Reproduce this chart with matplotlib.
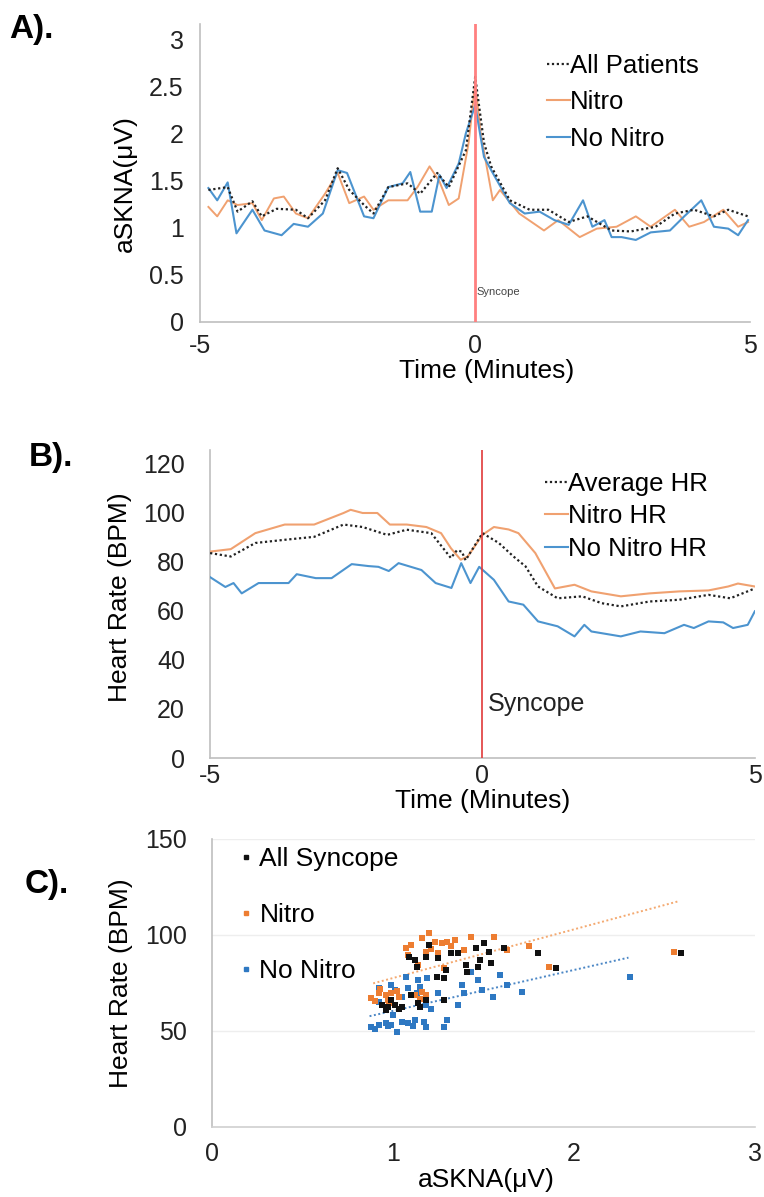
import matplotlib
matplotlib.use("Agg")
import matplotlib.pyplot as plt
from matplotlib.lines import Line2D

plt.rcParams['font.family'] = ['Liberation Sans', 'DejaVu Sans']

# ---- panel A: aSKNA around syncope ----
a_all_t = [-4.85, -4.5, -4.32, -4.05, -3.88, -3.61, -3.26, -3.04, -2.73, -2.5, -2.29, -2.02, -1.85, -1.58,
           -1.23, -1.0, -0.69, -0.48, -0.17, 0, 0.16, 0.29, 0.63, 0.99, 1.33, 1.7, 2.04, 2.48, 2.83, 3.28,
           3.63, 3.98, 4.34, 4.6, 4.96]
a_all_v = [1.40, 1.43, 1.17, 1.28, 1.12, 1.20, 1.19, 1.10, 1.29, 1.63, 1.40, 1.24, 1.15, 1.43,
           1.47, 1.36, 1.58, 1.43, 1.82, 2.6, 1.90, 1.65, 1.29, 1.19, 1.19, 1.06, 1.12, 0.97, 0.96, 1.01,
           1.15, 1.19, 1.12, 1.19, 1.12]
a_nitro_t = [-4.85, -4.69, -4.5, -4.32, -4.05, -3.88, -3.66, -3.48, -3.26, -3.04, -2.73, -2.5, -2.29, -2.02,
             -1.85, -1.58, -1.23, -1.05, -0.83, -0.65, -0.48, -0.3, -0.12, 0, 0.1, 0.32, 0.45, 0.8, 1.25,
             1.51, 1.9, 2.21, 2.57, 2.92, 3.19, 3.63, 3.89, 4.16, 4.51, 4.78, 4.96]
a_nitro_v = [1.22, 1.12, 1.29, 1.24, 1.26, 1.08, 1.31, 1.33, 1.15, 1.10, 1.36, 1.58, 1.26, 1.33,
             1.19, 1.29, 1.29, 1.43, 1.65, 1.49, 1.24, 1.31, 1.90, 2.53, 2.0, 1.29, 1.40, 1.15, 0.97,
             1.08, 0.90, 0.99, 1.01, 1.12, 1.01, 1.19, 1.01, 1.06, 1.19, 1.01, 1.06]
a_nonitro_t = [-4.85, -4.69, -4.5, -4.34, -4.05, -3.83, -3.52, -3.3, -3.04, -2.77, -2.5, -2.33, -2.02, -1.85,
               -1.58, -1.32, -1.18, -1.0, -0.79, -0.65, -0.52, -0.3, -0.17, 0, 0.16, 0.29, 0.63, 0.9, 1.17,
               1.44, 1.7, 1.96, 2.13, 2.35, 2.48, 2.66, 2.92, 3.19, 3.54, 3.8, 4.11, 4.34, 4.6, 4.78, 4.96]
a_nonitro_v = [1.42, 1.29, 1.48, 0.94, 1.19, 0.97, 0.92, 1.04, 1.01, 1.15, 1.61, 1.58, 1.12, 1.10,
               1.43, 1.47, 1.59, 1.17, 1.17, 1.56, 1.42, 1.68, 2.0, 2.3, 1.75, 1.61, 1.26, 1.15, 1.17,
               1.08, 1.03, 1.29, 1.01, 1.08, 0.90, 0.90, 0.87, 0.95, 0.97, 1.12, 1.29, 1.01, 0.99, 0.92, 1.08]

# ---- panel B: heart rate around syncope ----
b_avg_t = [-5, -4.62, -4.17, -3.63, -3.09, -2.55, -2.2, -1.75, -1.39, -0.94, -0.58, -0.47, -0.38, -0.31,
           0, 0.3, 0.57, 0.79, 1.02, 1.38, 1.83, 2.19, 2.54, 3.07, 3.61, 4.15, 4.55, 5]
b_avg_v = [83.4, 82, 87.5, 88.8, 90, 95, 94, 90.8, 92.9, 91.5, 81.4, 84.5, 84, 80.5,
           91.5, 87.5, 82, 78, 69.8, 65, 65.8, 63, 61.7, 63.7, 64.4, 66.4, 65, 69]
b_nitro_t = [-5, -4.62, -4.17, -3.63, -3.09, -2.55, -2.42, -2.2, -1.93, -1.7, -1.39, -1.03, -0.76, -0.58,
             -0.4, -0.27, 0, 0.21, 0.48, 0.66, 0.97, 1.33, 1.69, 2.0, 2.54, 3.07, 3.61, 4.15, 4.51, 4.69, 5]
b_nitro_v = [84, 85, 91.5, 95, 95, 99.7, 101, 99.7, 99.7, 95, 95, 94, 91.5, 85.4,
             80.7, 82, 90.8, 94, 93, 91.5, 83.4, 69, 70.5, 67.8, 65.8, 67, 67.8, 68.2, 69.8, 71, 69.8]
b_nonitro_t = [-5, -4.72, -4.57, -4.42, -4.11, -3.56, -3.41, -3.06, -2.77, -2.40, -2.09, -1.91, -1.72, -1.54,
               -1.36, -1.12, -0.86, -0.57, -0.39, -0.22, -0.06, 0.21, 0.48, 0.75, 1.02, 1.38, 1.69, 1.87,
               2.0, 2.54, 2.9, 3.34, 3.7, 3.88, 4.15, 4.42, 4.6, 4.87, 5]
b_nonitro_v = [73.6, 69.6, 71.2, 67, 71.2, 71.2, 74.8, 73.2, 73.2, 78.9, 78.1, 77.8, 76.1, 79.3,
               78.1, 76.5, 71.2, 69.2, 79.3, 71.2, 77.8, 72.5, 63.7, 62.4, 55.6, 53.6, 49.5, 54.2,
               51.5, 49.5, 51.5, 50.8, 54.2, 52.9, 55.6, 55.2, 52.9, 54.2, 59.7]

# ---- panel C: HR vs aSKNA ----
c_all_x = [0.94, 0.97, 1.01, 1.05, 0.99, 1.10, 1.14, 1.18, 1.28, 1.09, 1.13, 1.18, 1.20, 1.25, 1.24, 1.29,
           1.32, 1.36, 1.40, 1.41, 1.46, 1.48, 1.50, 1.53, 1.54, 1.61, 1.80, 1.90, 2.59, 1.28, 1.47,
           0.96, 1.03, 1.15, 1.12]
c_all_y = [63.5, 62.7, 63.5, 62.7, 66.1, 68.7, 64.4, 66.1, 66.1, 88.7, 83.5, 88.7, 94.8, 87.8, 78.3, 81.8,
           90.4, 90.4, 84.4, 80.9, 93.1, 87, 95.7, 91.3, 85.2, 93.1, 90.4, 82.6, 90.4, 77.4, 83.5,
           61, 61.5, 62.5, 87]
c_nitro_x = [0.88, 0.92, 0.96, 0.99, 0.97, 1.03, 1.12, 1.16, 1.18, 1.07, 1.10, 1.16, 1.20, 1.23, 1.27,
             1.30, 1.34, 1.18, 1.25, 1.28, 1.39, 1.43, 1.56, 1.14, 1.63, 1.75, 1.86, 2.55, 1.08,
             0.93, 0.98, 1.02, 0.90, 1.15, 1.21, 1.32]
c_nitro_y = [67, 69.6, 68.7, 69.6, 66.1, 67.9, 68.7, 70.5, 68.7, 93.1, 94.8, 98.3, 100.9, 96.5, 95.7,
             96.5, 97.4, 91.3, 90.4, 82.6, 92.2, 99.1, 99.1, 84.4, 92.2, 94, 83.5, 91.3, 89.6,
             72, 64.5, 71, 65.5, 66.5, 92.5, 94]
c_nonitro_x = [0.88, 0.92, 0.96, 0.99, 1.02, 1.05, 1.08, 1.12, 1.17, 1.18, 1.28, 1.30, 1.36, 0.92, 0.99,
               1.01, 1.07, 1.14, 1.15, 1.19, 1.18, 1.25, 1.38, 1.39, 1.43, 1.47, 1.49, 1.55, 1.59, 1.63,
               1.71, 2.31, 1.05, 1.13, 0.92, 0.90, 0.97, 1.11, 1.0, 1.21, 1.08]
c_nonitro_y = [52.2, 53.1, 54, 53.1, 49.6, 54.9, 54, 55.7, 54.9, 52.2, 52.2, 55.7, 63.5, 72.2, 74,
               71.3, 78.3, 76.6, 73.1, 77.4, 63.5, 69.6, 74, 69.6, 80.9, 76.6, 71.3, 67.9, 79.2, 74,
               70.5, 78.3, 67.9, 69.6, 65.3, 51.0, 52.5, 52.8, 58.5, 61.5, 72.5]
trend_nitro_x = [0.89, 2.57]
trend_nitro_y = [74.8, 117.4]
trend_nonitro_x = [0.87, 2.30]
trend_nonitro_y = [57.7, 88.2]

ORANGE_LN = '#F0A170'
BLUE_LN = '#4C94CF'
ORANGE = '#ED7D31'
BLUE = '#2E78C2'
GRAY = '#BFBFBF'

fig = plt.figure(figsize=(7.64, 11.97), dpi=100)


def style_axes(ax, ypad, xpad):
    for s in ['top', 'right']:
        ax.spines[s].set_visible(False)
    for s in ['left', 'bottom']:
        ax.spines[s].set_color(GRAY)
        ax.spines[s].set_linewidth(1.2)
    ax.tick_params(axis='y', length=0, pad=ypad, labelsize=18, colors='#222222')
    ax.tick_params(axis='x', length=0, pad=xpad, labelsize=18, colors='#222222')


# A
axA = fig.add_axes([0.262, 0.731, 0.720, 0.249])
axA.plot(a_all_t, a_all_v, color='#222222', ls=(0, (1, 1.2)), lw=1.6, zorder=4)
axA.plot(a_nitro_t, a_nitro_v, color=ORANGE_LN, lw=1.4, zorder=3)
axA.plot(a_nonitro_t, a_nonitro_v, color=BLUE_LN, lw=1.5, zorder=3)
axA.axvline(0, color='#FF8080', lw=2, zorder=5)
axA.set_xlim(-5, 5)
axA.set_ylim(0, 3.16)
axA.set_xticks([-5, 0, 5])
axA.set_xticklabels(['-5', '0', '5'])
axA.set_yticks([0, 0.5, 1, 1.5, 2, 2.5, 3])
axA.set_yticklabels(['0', '0.5', '1', '1.5', '2', '2.5', '3'])
style_axes(axA, 12, 9)
axA.set_xlabel('Time (Minutes)', fontsize=19, va='center')
axA.xaxis.set_label_coords(0.52, -0.165)
axA.set_ylabel('aSKNA(μV)', fontsize=19, va='center')
axA.yaxis.set_label_coords(-0.136, 0.466)
axA.text(0.015, 0.1, 'Syncope', fontsize=8, color='#444444', transform=axA.get_xaxis_transform(), ha='left', va='center')
hA = [Line2D([], [], color='#222222', ls=(0, (1, 1.2)), lw=1.6),
      Line2D([], [], color=ORANGE_LN, lw=1.5),
      Line2D([], [], color=BLUE_LN, lw=1.5)]
axA.legend(hA, ['All Patients', 'Nitro', 'No Nitro'], loc='upper left', bbox_to_anchor=(0.716, 0.955),
           bbox_transform=fig.transFigure, frameon=False, fontsize=18.5, handlelength=0.9, handletextpad=0.0,
           borderpad=0, borderaxespad=0, labelspacing=0.48)

# B
axB = fig.add_axes([0.275, 0.3667, 0.713, 0.2573])
axB.plot(b_avg_t, b_avg_v, color='#222222', ls=(0, (1, 1.2)), lw=1.6, zorder=4)
axB.plot(b_nitro_t, b_nitro_v, color=ORANGE_LN, lw=1.5, zorder=3)
axB.plot(b_nonitro_t, b_nonitro_v, color=BLUE_LN, lw=1.5, zorder=3)
axB.axvline(0, color='#E03A3A', lw=1.2, zorder=5)
axB.set_xlim(-5, 5)
axB.set_ylim(0, 125.3)
axB.set_xticks([-5, 0, 5])
axB.set_xticklabels(['-5', '0', '5'])
axB.set_yticks(range(0, 121, 20))
style_axes(axB, 18, 4)
axB.set_xlabel('Time (Minutes)', fontsize=19, va='center')
axB.xaxis.set_label_coords(0.5, -0.138)
axB.set_ylabel('Heart Rate (BPM)', fontsize=19, va='center')
axB.yaxis.set_label_coords(-0.165, 0.523)
axB.text(0.1, 22, 'Syncope', fontsize=18, color='#222222', ha='left', va='center')
hB = [Line2D([], [], color='#222222', ls=(0, (1, 1.2)), lw=1.6),
      Line2D([], [], color=ORANGE_LN, lw=1.5),
      Line2D([], [], color=BLUE_LN, lw=1.5)]
axB.legend(hB, ['Average HR', 'Nitro HR', 'No Nitro HR'], loc='upper left', bbox_to_anchor=(0.713, 0.606),
           bbox_transform=fig.transFigure, frameon=False, fontsize=18.5, handlelength=0.9, handletextpad=0.0,
           borderpad=0, borderaxespad=0, labelspacing=0.33)

# C
axC = fig.add_axes([0.2775, 0.0585, 0.711, 0.2406])
axC.scatter(c_nonitro_x, c_nonitro_y, s=16, color=BLUE, marker='s', lw=0, zorder=3)
axC.scatter(c_nitro_x, c_nitro_y, s=16, color=ORANGE, marker='s', lw=0, zorder=3)
axC.scatter(c_all_x, c_all_y, s=16, color='#111111', marker='s', lw=0, zorder=4)
axC.plot(trend_nitro_x, trend_nitro_y, color='#F4A970', ls=(0, (1, 1.3)), lw=1.4, zorder=2)
axC.plot(trend_nonitro_x, trend_nonitro_y, color='#4A86C5', ls=(0, (1, 1.3)), lw=1.4, zorder=2)
axC.set_xlim(0, 3)
axC.set_ylim(0, 150)
axC.set_xticks([0, 1, 2, 3])
axC.set_yticks([0, 50, 100, 150])
axC.grid(axis='y', color='#EEEEEE', lw=1)
axC.set_axisbelow(True)
style_axes(axC, 18, 11)
axC.spines['bottom'].set_color('#D0D0D0')
axC.set_xlabel('aSKNA(μV)', fontsize=19, va='center')
axC.xaxis.set_label_coords(0.505, -0.184)
axC.set_ylabel('Heart Rate (BPM)', fontsize=19, va='center')
axC.yaxis.set_label_coords(-0.168, 0.5)
hC = [Line2D([], [], color='#111111', marker='s', ms=3.5, ls='none'),
      Line2D([], [], color=ORANGE, marker='s', ms=3.5, ls='none'),
      Line2D([], [], color=BLUE, marker='s', ms=3.5, ls='none')]
axC.legend(hC, ['All Syncope', 'Nitro', 'No Nitro'], loc='upper left', bbox_to_anchor=(0.312, 0.292),
           bbox_transform=fig.transFigure, frameon=False, fontsize=19, handlelength=0.6, handletextpad=0.2,
           borderpad=0, borderaxespad=0, labelspacing=1.2)

# panel letters
fig.text(0.012, 0.975, 'A).', fontsize=24, fontweight='bold', va='center', ha='left')
fig.text(0.038, 0.618, 'B).', fontsize=24, fontweight='bold', va='center', ha='left')
fig.text(0.032, 0.261, 'C).', fontsize=24, fontweight='bold', va='center', ha='left')

fig.savefig('out.png', dpi=100)
